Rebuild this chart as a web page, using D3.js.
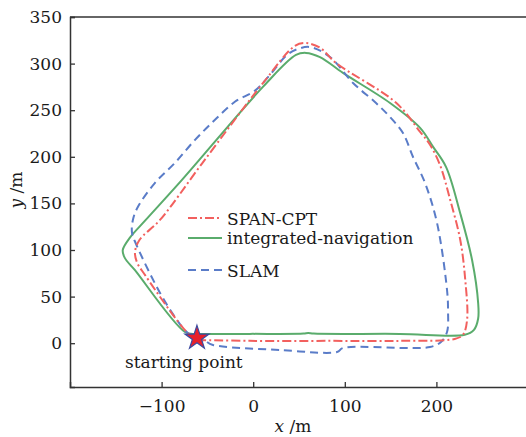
<!DOCTYPE html>
<html>
<head>
<meta charset="utf-8">
<script src="https://cdn.jsdelivr.net/npm/d3@7"></script>
<style>
  body { margin: 0; background: #fff; }
  svg text { font-family: "DejaVu Serif", serif !important; fill: #1a1a1a; }
</style>
</head>
<body>
<div id="chart"></div>
<script>
// trajectories, [x, y] in metres
var spanCpt = [[-61,3.5],[-4,2.5],[84,2.5],[160,2.5],[220,4.6],[229,9],[233.5,25],[231.5,68],[226,111],[215,154],[204,191],[193,213],[182,227],[156,258],[90,301],[73,317],[57.6,322],[45.6,319],[10.6,279],[-55.7,193],[-102,132],[-124,111],[-129,98],[-127,87],[-118,73],[-72.5,12],[-61,3.5]];
var integrated = [[-63.7,10],[-3.6,10],[55,10.3],[60,11],[66,10.3],[160,10],[231,9],[241,14.3],[245.6,26.5],[245.6,43],[239,89],[226,139.5],[210.6,189],[196.4,210.6],[182.2,231],[149.4,257.7],[98,290],[72.9,307],[57.6,311.5],[46.7,309.3],[10.6,275],[-78,175],[-117.3,132.3],[-134.8,113],[-142.4,100],[-140.2,91.5],[-129.3,78.6],[-74.6,12.1],[-63.7,10]];
var slam = [[-50.4,1.3],[-43.9,-1.9],[29.3,-7.3],[91.5,-9.4],[98,-5.2],[193,-4.1],[205,1.3],[211.6,12],[212.7,35.6],[211.6,57.1],[200.7,129],[187.6,171.9],[174.5,199.8],[163.5,225.5],[149.3,242.7],[134.1,257.7],[109,279.2],[83.8,307.1],[62,317.8],[48.9,315.7],[36.9,309.3],[18.3,287.9],[2,271],[-20,259],[-41.7,239.7],[-63.5,218.2],[-85.4,193.5],[-107.2,172.1],[-125.8,146.4],[-131.3,132.5],[-132.3,118.5],[-128,106.7],[-101.7,53.9],[-83.2,24.9],[-71.2,10.9],[-50.4,1.3]];
var startPoint = [-61.4, 5.6];

var xTicks = [-100, 0, 100, 200];
var yTicks = [0, 50, 100, 150, 200, 250, 300, 350];

var seriesNames = ["SPAN-CPT", "integrated-navigation", "SLAM"];
var seriesColors = ["#f2605e", "#5aac6c", "#5a7cc8"];
var seriesDash = ["9,3,2,3", null, "8,5"];

var width = 526, height = 437;
var margin = { left: 70, top: 17, bottom: 50 };
var serif = "'DejaVu Serif', serif";

var svg = d3.select("#chart").append("svg")
  .attr("width", width)
  .attr("height", height);

var x = d3.scaleLinear().domain([-200, 300]).range([margin.left, 528]);
var y = d3.scaleLinear().domain([-47, 350]).range([height - margin.bottom, margin.top]);

// axes, ticks point inward
var xAxis = svg.append("g")
  .attr("transform", "translate(0," + y(-47) + ")")
  .call(d3.axisBottom(x).tickValues(xTicks).tickSize(-5).tickPadding(12)
    .tickFormat(function (d) { return d < 0 ? "\u2212" + Math.abs(d) : d; }));
xAxis.attr("font-family", serif);
xAxis.selectAll("text").style("font-size", "17px").style("font-family", serif).attr("dy", "0.75em");

var yAxis = svg.append("g")
  .attr("transform", "translate(" + x(-200) + ",0)")
  .call(d3.axisLeft(y).tickValues(yTicks).tickSize(-5).tickPadding(8));
yAxis.attr("font-family", serif);
yAxis.selectAll("text").style("font-size", "17px").style("font-family", serif);

svg.selectAll(".domain").attr("stroke", "#333").attr("stroke-width", 1.5);
svg.selectAll(".tick line").attr("stroke", "#333").attr("stroke-width", 1.3);

// top frame line
svg.append("line")
  .attr("x1", x(-200)).attr("x2", x(300))
  .attr("y1", y(350)).attr("y2", y(350))
  .attr("stroke", "#333").attr("stroke-width", 1.5);

var line = d3.line()
  .x(function (d) { return x(d[0]); })
  .y(function (d) { return y(d[1]); })
  .curve(d3.curveCatmullRom.alpha(0.5));

var all = [spanCpt, integrated, slam];
// green first, then blue, red on top
[1, 2, 0].forEach(function (i) {
  svg.append("path")
    .datum(all[i])
    .attr("fill", "none")
    .attr("stroke", seriesColors[i])
    .attr("stroke-width", 2)
    .attr("stroke-dasharray", seriesDash[i])
    .attr("d", line);
});

// starting point marker
svg.append("path")
  .attr("d", d3.symbol().type(d3.symbolStar).size(180)())
  .attr("transform", "translate(" + x(startPoint[0]) + "," + y(startPoint[1]) + ")")
  .attr("fill", "#e8202a")
  .attr("stroke", "#3a4aa0")
  .attr("stroke-width", 1.2);

svg.append("text")
  .attr("x", 125).attr("y", 368)
  .style("font-size", "17px")
  .style("font-family", serif)
  .text("starting point");

// legend
var legendY = [218, 238, 270];
var textY = [225, 244, 277];
seriesNames.forEach(function (name, i) {
  svg.append("line")
    .attr("x1", 188).attr("x2", 222)
    .attr("y1", legendY[i]).attr("y2", legendY[i])
    .attr("stroke", seriesColors[i])
    .attr("stroke-width", 2)
    .attr("stroke-dasharray", seriesDash[i]);
  svg.append("text")
    .attr("x", 227).attr("y", textY[i])
    .style("font-size", "17px")
    .style("font-family", serif)
    .text(name);
});

// axis labels
var xl = svg.append("text")
  .attr("x", 293).attr("y", 432)
  .attr("text-anchor", "middle")
  .style("font-size", "17px")
  .style("font-family", serif);
xl.append("tspan").style("font-style", "italic").text("x");
xl.append("tspan").text(" /m");

var yl = svg.append("text")
  .attr("transform", "translate(22,190) rotate(-90)")
  .attr("text-anchor", "middle")
  .style("font-size", "17px")
  .style("font-family", serif);
yl.append("tspan").style("font-style", "italic").text("y");
yl.append("tspan").text(" /m");
</script>
</body>
</html>
